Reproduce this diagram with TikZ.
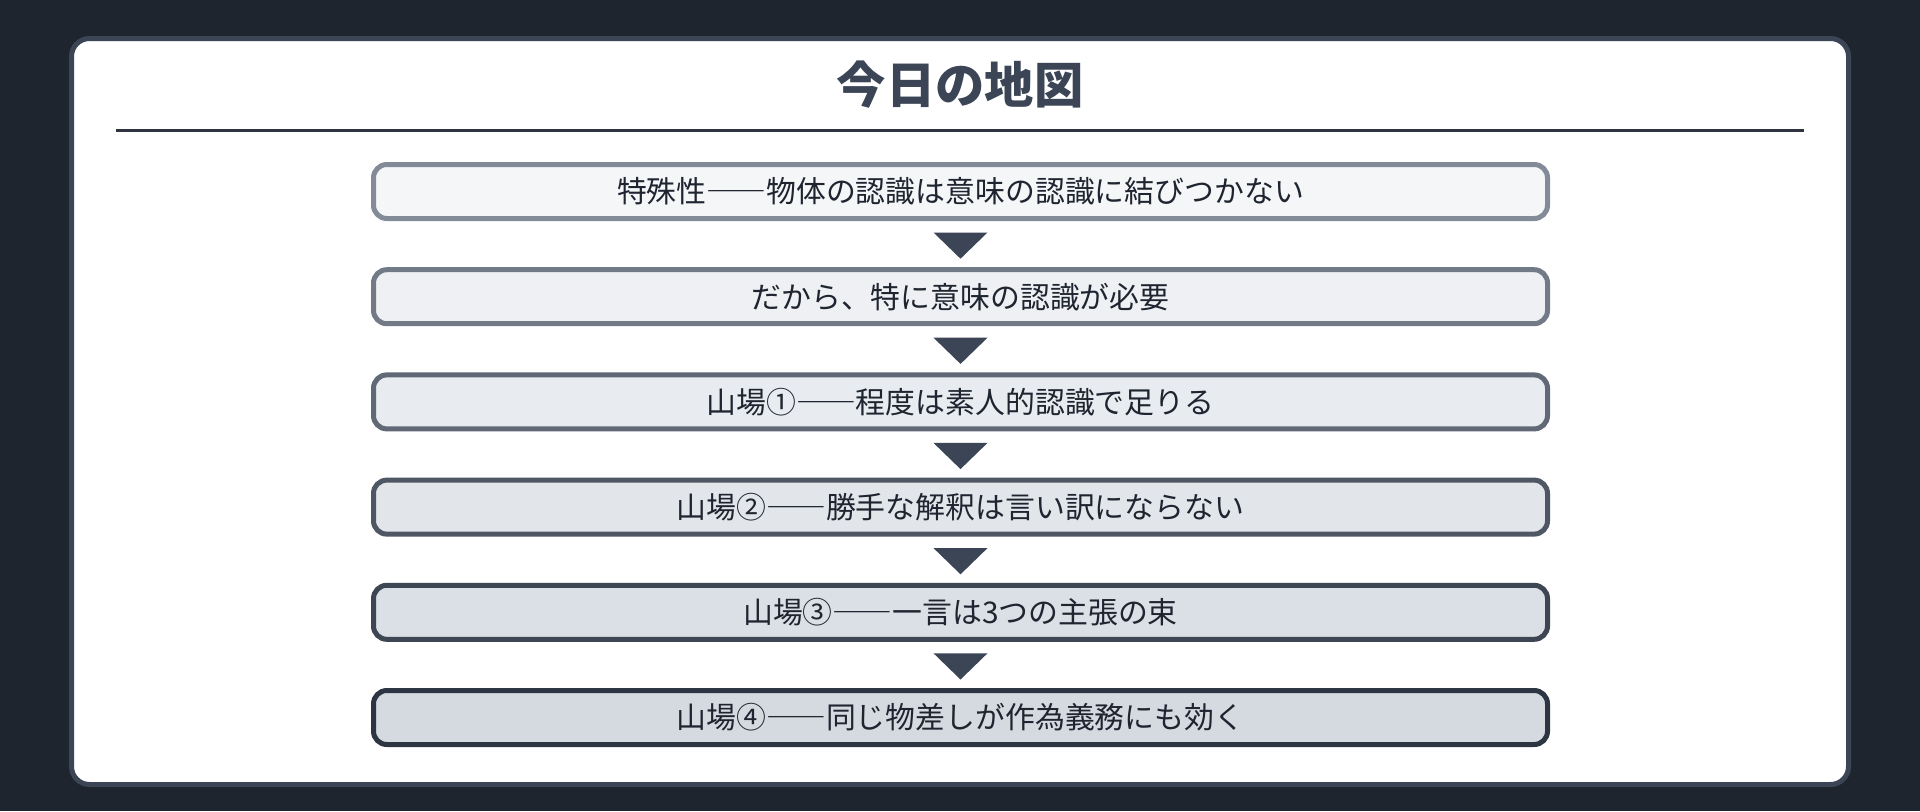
\documentclass[tikz,border=0pt]{standalone}
\usepackage{fontspec}
\setmainfont{Noto Sans CJK JP}
\newfontfamily\fwfont{Noto Sans CJK JP}[RawFeature=+fwid]
\newcommand{\fw}[1]{{\fwfont #1}}
\usetikzlibrary{calc}
\definecolor{bgdark}{HTML}{1E252F}
\definecolor{panelline}{HTML}{3B4555}
\definecolor{titlecol}{HTML}{3B4555}
\definecolor{rulecol}{HTML}{2D3440}
\definecolor{textdark}{HTML}{1F2530}
\definecolor{tipcol}{HTML}{3B4555}
\definecolor{boxfillA}{HTML}{F5F6F8}
\definecolor{boxfillB}{HTML}{D5DAE1}
\definecolor{boxdrawA}{HTML}{838B99}
\definecolor{boxdrawB}{HTML}{2D3442}
\begin{document}
\begin{tikzpicture}[x=0.75pt,y=-0.75pt,
    stepbox/.style={draw, line width=3.75pt, rounded corners=10pt,
      minimum width=880.5pt, minimum height=40.5pt, inner sep=0pt,
      font=\fontsize{22.4}{26}\selectfont, text=textdark}]
   % background and panel
   \fill[bgdark] (0,0) rectangle (1920,811);
   \useasboundingbox (0,0) rectangle (1920,811);
   \draw[panelline, fill=white, line width=3.75pt, rounded corners=13.5pt] (71.5,38.5) rectangle (1848.5,784.5);
   % title and rule
   \node[font=\bfseries\fontsize{37}{44}\selectfont, text=titlecol] (title) at (960,85) {今日の地図};
   \draw[rulecol, line width=2.25pt] (116,130) -- (1804,130);
   % boxes
   \foreach \t [count=\i] in {特殊性\fw{——}物体の認識は意味の認識に結びつかない,
                              だから、特に意味の認識が必要,
                              山場\fw{①——}程度は素人的認識で足りる,
                              山場\fw{②——}勝手な解釈は言い訳にならない,
                              山場\fw{③——}一言は3つの主張の束,
                              山場\fw{④——}同じ物差しが作為義務にも効く}{
       \pgfmathtruncatemacro{\p}{(\i-1)*20}
       \colorlet{bf}{boxfillB!\p!boxfillA}
       \colorlet{bd}{boxdrawB!\p!boxdrawA}
       \node[stepbox, fill=bf, draw=bd] (b\i) at (960.5,{191.5+105.2*(\i-1)}) {\raisebox{-2pt}{\t}};
   }
   % arrows between boxes
   \foreach \i [evaluate=\i as \j using int(\i+1)] in {1,...,5}
       \fill[tipcol] ($(b\i.south)+(-27,11.5)$) -- ($(b\i.south)+(27,11.5)$) -- ($(b\j.north)+(0,-8.5)$) -- cycle;
\end{tikzpicture}
\end{document}
